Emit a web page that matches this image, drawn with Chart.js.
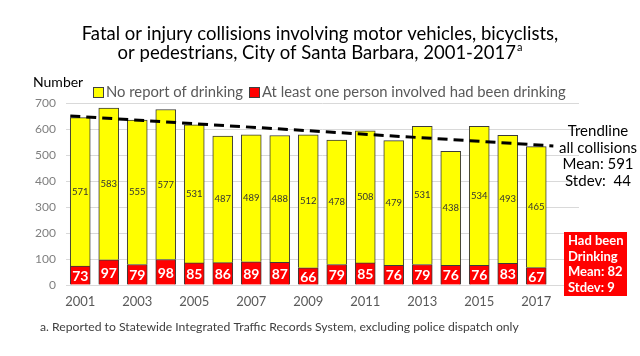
<!DOCTYPE html>
<html><head><meta charset="utf-8">
<script src="https://cdn.jsdelivr.net/npm/chart.js@4/dist/chart.umd.min.js"></script>
<style>html,body{margin:0;padding:0;background:#fff}#wrap{width:640px;height:356px;position:relative}</style>
</head><body><div id="wrap"><canvas id="c" width="640" height="356"></canvas></div>
<script>
const years = ['2001','2002','2003','2004','2005','2006','2007','2008','2009','2010','2011','2012','2013','2014','2015','2016','2017'];
const drinking = [73,97,79,98,85,86,89,87,66,79,85,76,79,76,76,83,67];
const noDrinking = [571,583,555,577,531,487,489,488,512,478,508,479,531,438,534,493,465];
const trendX = [-0.35, 16.6];
const trendY = [650, 535];
const yTicks = [0,100,200,300,400,500,600,700];
const titleLines = ['Fatal or injury collisions involving motor vehicles, bicyclists,', 'or pedestrians, City of Santa Barbara, 2001-2017'];
const legendLabels = ['No report of drinking', 'At least one person involved had been drinking'];
const trendNote = ['Trendline', 'all collisions', 'Mean: 591', 'Stdev:  44'];
const drinkNote = ['Had been', 'Drinking', 'Mean: 82', 'Stdev: 9'];
const footnote = 'a. Reported to Statewide Integrated Traffic Records System, excluding police dispatch only';

const FONT = 'Lato, "Open Sans", sans-serif';
const labels = years.concat(['']);

const textPlugin = {
  id: 'texts',
  afterDatasetsDraw(chart) {
    const ctx = chart.ctx;
    ctx.save();
    chart.data.datasets.forEach((ds, di) => {
      if (ds.type === 'line') return;
      const meta = chart.getDatasetMeta(di);
      meta.data.forEach((el, i) => {
        const v = ds.data[i];
        if (v == null) return;
        const cy = (el.y + el.base) / 2;
        ctx.textAlign = 'center'; ctx.textBaseline = 'middle';
        if (di === 0) {
          ctx.font = 'bold 14px ' + FONT; ctx.fillStyle = '#ffffff';
          ctx.fillText(String(v), el.x, cy + 1);
        } else {
          ctx.font = '9.5px ' + FONT; ctx.fillStyle = '#333333';
          ctx.fillText(String(v), el.x, cy);
        }
      });
    });
    ctx.restore();
  },
  afterDraw(chart) {
    const ctx = chart.ctx;
    ctx.save();
    ctx.textBaseline = 'middle';
    ctx.fillStyle = '#000'; ctx.textAlign = 'center';
    ctx.font = '18.5px ' + FONT;
    ctx.fillText(titleLines[0], 320, 34);
    ctx.textAlign = 'left';
    const w2 = ctx.measureText(titleLines[1]).width;
    ctx.font = '11px ' + FONT;
    const wa = ctx.measureText('a').width;
    const x2 = 320 - (w2 + wa + 1) / 2;
    ctx.font = '18.5px ' + FONT;
    ctx.fillText(titleLines[1], x2, 53);
    ctx.font = '11px ' + FONT;
    ctx.fillText('a', x2 + w2 + 1, 47);
    ctx.font = '14px ' + FONT; ctx.fillStyle = '#000';
    ctx.fillText('Number', 33, 82);
    ctx.font = '14.8px ' + FONT;
    ctx.lineWidth = 1; ctx.strokeStyle = '#404040';
    ctx.fillStyle = '#ffff00'; ctx.fillRect(93.5, 87.5, 10, 10); ctx.strokeRect(93.5, 87.5, 10, 10);
    ctx.fillStyle = '#595959'; ctx.fillText(legendLabels[0], 106, 92);
    ctx.fillStyle = '#ff0000'; ctx.fillRect(249.5, 87.5, 10, 10); ctx.strokeRect(249.5, 87.5, 10, 10);
    ctx.fillStyle = '#595959'; ctx.fillText(legendLabels[1], 262, 92);
    ctx.textAlign = 'center'; ctx.fillStyle = '#000'; ctx.font = '15px ' + FONT;
    const ty = [131, 148, 164, 181];
    trendNote.forEach((t, i) => ctx.fillText(t, 598, ty[i]));
    ctx.fillStyle = '#ff0000'; ctx.fillRect(564, 232, 63, 64);
    ctx.fillStyle = '#fff'; ctx.textAlign = 'left'; ctx.font = 'bold 13px ' + FONT;
    const dy = [241, 257, 272, 288];
    drinkNote.forEach((t, i) => ctx.fillText(t, 568, dy[i]));
    ctx.fillStyle = '#404040'; ctx.font = '12.2px ' + FONT;
    ctx.fillText(footnote, 40, 327);
    ctx.restore();
  }
};

new Chart(document.getElementById('c'), {
  data: {
    labels: labels,
    datasets: [
      { type: 'bar', label: legendLabels[1], data: drinking, backgroundColor: '#ff0000', borderColor: '#3a3a3a', borderWidth: 1, grouped: false, order: 2, barThickness: 20 },
      { type: 'bar', label: legendLabels[0], data: noDrinking, backgroundColor: '#ffff00', borderColor: '#3a3a3a', borderWidth: 1, grouped: false, order: 2, barThickness: 20 },
      { type: 'line', label: 'Trend', data: trendX.map((x, i) => ({x: x, y: trendY[i]})), xAxisID: 'x2', borderColor: '#000', borderWidth: 3, borderDash: [10, 6], pointRadius: 0, fill: false, order: 0 }
    ]
  },
  options: {
    responsive: false, animation: false, devicePixelRatio: 1,
    layout: { padding: { top: 103, right: 61, bottom: 0, left: 0 } },
    plugins: { legend: { display: false }, title: { display: false }, tooltip: { enabled: false } },
    scales: {
      x: {
        stacked: true,
        grid: { display: false, drawTicks: false },
        border: { display: false },
        ticks: { color: '#595959', font: { family: FONT, size: 13 }, padding: 9, maxRotation: 0, autoSkip: false,
          callback: function(v, i) { return (i % 2 === 0 && i < years.length) ? labels[i] : ''; } },
        afterFit(s) { s.height = 71; }
      },
      x2: { type: 'linear', min: -0.5, max: 17.5, display: false },
      y: {
        stacked: true, min: 0, max: 700,
        afterBuildTicks(s) { s.ticks = yTicks.map(v => ({ value: v })); },
        grid: { color: '#d9d9d9', drawTicks: false },
        border: { display: false },
        ticks: { color: '#7f7f7f', font: { family: FONT, size: 12 }, padding: 10 },
        afterFit(s) { s.width = 66; }
      }
    }
  },
  plugins: [textPlugin]
});
</script></body></html>
